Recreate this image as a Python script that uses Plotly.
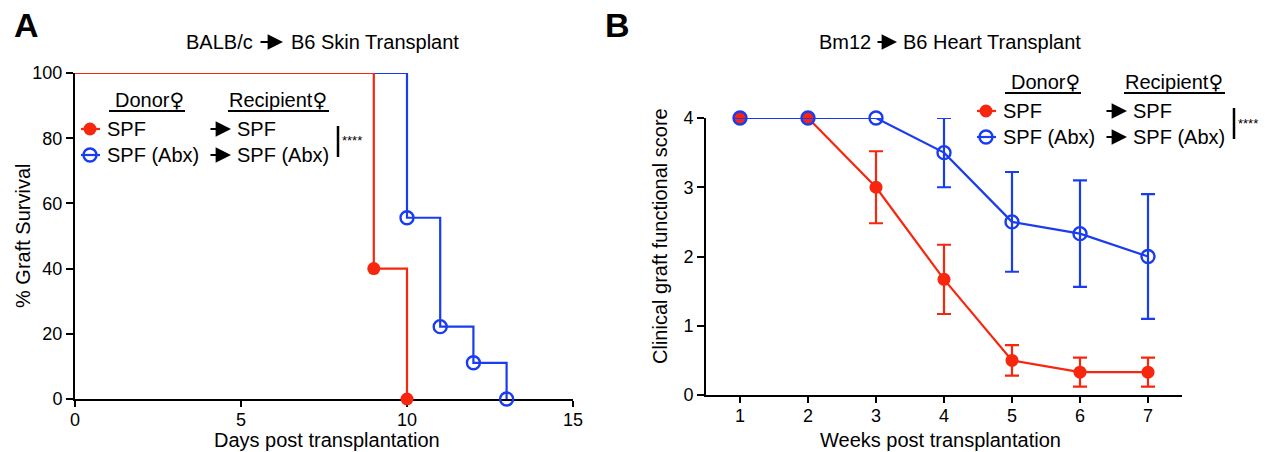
import plotly.graph_objects as go

W, H = 1267, 452          # browser window
OFF = 8                   # page body margin
FW, FH = W - OFF, H - OFF  # figure size

# ---------------- Data ----------------
# Panel A: Kaplan-Meier graft survival (%)
spf_days = [0, 9, 10]
spf_surv = [100, 40, 0]
abx_days = [0, 10, 11, 12, 13]
abx_surv = [100, 55.6, 22.2, 11.1, 0]
a_xticks = [0, 5, 10, 15]
a_yticks = [0, 20, 40, 60, 80, 100]

# Panel B: clinical graft functional score (mean +/- error)
weeks = [1, 2, 3, 4, 5, 6, 7]
spf_score = [4, 4, 3, 1.67, 0.5, 0.33, 0.33]
spf_err = [None, None, 0.52, 0.5, 0.22, 0.21, 0.21]
abx_score = [4, 4, 4, 3.5, 2.5, 2.33, 2.0]
abx_err = [None, None, None, 0.5, 0.72, 0.77, 0.9]
b_yticks = [0, 1, 2, 3, 4]

RED = "#F7260F"
BLUE = "#1A3CF0"
FONT = "Liberation Sans, Arial, Helvetica, sans-serif"
TXT = 20
TICK = 18
MS = 13
FEM = '<span style="font-family:DejaVu Sans">♀</span>'


def X(px):
    return (px - OFF) / FW


def Y(py):
    return 1 - (py - OFF) / FH


fig = go.Figure()

# ---- Panel A traces ----
fig.add_trace(go.Scatter(x=abx_days, y=abx_surv, mode="lines", line=dict(color=BLUE, width=2.2, shape="hv"),
                         xaxis="x", yaxis="y", showlegend=False, cliponaxis=False))
fig.add_trace(go.Scatter(x=spf_days, y=spf_surv, mode="lines", line=dict(color=RED, width=2.2, shape="hv"),
                         xaxis="x", yaxis="y", showlegend=False, cliponaxis=False))
fig.add_trace(go.Scatter(x=abx_days[1:], y=abx_surv[1:], mode="markers",
                         marker=dict(symbol="circle-open", size=MS, color=BLUE, line=dict(width=2.4)),
                         xaxis="x", yaxis="y", showlegend=False, cliponaxis=False))
fig.add_trace(go.Scatter(x=spf_days[1:], y=spf_surv[1:], mode="markers",
                         marker=dict(symbol="circle", size=MS, color=RED),
                         xaxis="x", yaxis="y", showlegend=False, cliponaxis=False))

# ---- Panel B traces ----
fig.add_trace(go.Scatter(x=weeks, y=spf_score, mode="lines+markers",
                         line=dict(color=RED, width=2.2),
                         marker=dict(symbol="circle", size=MS, color=RED),
                         error_y=dict(type="data", array=spf_err, visible=True, color=RED, thickness=2.2, width=7),
                         xaxis="x2", yaxis="y2", showlegend=False, cliponaxis=False))
fig.add_trace(go.Scatter(x=weeks, y=abx_score, mode="lines+markers",
                         line=dict(color=BLUE, width=2.2),
                         marker=dict(symbol="circle-open", size=MS, color=BLUE, line=dict(width=2.4)),
                         error_y=dict(type="data", array=abx_err, visible=True, color=BLUE, thickness=2.2, width=7),
                         xaxis="x2", yaxis="y2", showlegend=False, cliponaxis=False))

axis_common = dict(showline=True, linecolor="black", linewidth=2, ticks="outside", tickwidth=2,
                   tickcolor="black", showgrid=False, zeroline=False, automargin=False,
                   tickfont=dict(family=FONT, size=TICK, color="black"), layer="below traces")
xax = dict(ticklen=6, ticklabelstandoff=-3, **axis_common)
yax = dict(ticklen=7, **axis_common)

fig.update_layout(
    width=FW, height=FH,
    margin=dict(l=0, r=0, t=0, b=0),
    paper_bgcolor="white", plot_bgcolor="white",
    font=dict(family=FONT, size=TXT, color="black"),
    xaxis=dict(domain=[X(75), X(573)], range=[0, 15], tickvals=a_xticks, anchor="y", **xax),
    yaxis=dict(domain=[Y(399), Y(73)], range=[0, 100], tickvals=a_yticks, anchor="x", **yax),
    xaxis2=dict(domain=[X(706), X(1182)], range=[0.5, 7.5], tickvals=weeks, anchor="y2", **xax),
    yaxis2=dict(domain=[Y(395), Y(118)], range=[0, 4], tickvals=b_yticks, anchor="x2", **yax),
)

ann = []
shapes = []


def text(px, py, s, size=TXT, xanchor="left", angle=0, bold=False):
    ann.append(dict(x=X(px), y=Y(py), xref="paper", yref="paper", text=(f"<b>{s}</b>" if bold else s),
                    showarrow=False, xanchor=xanchor, yanchor="middle", textangle=angle,
                    font=dict(family=FONT, size=size, color="black")))


def arrow(x0, x1, py):
    ann.append(dict(x=X(x1), y=Y(py), xref="paper", yref="paper", ax=-(x1 - x0), ay=0, axref="pixel",
                    ayref="pixel", text="", showarrow=True, arrowhead=2, arrowsize=1.4, arrowwidth=2.2,
                    arrowcolor="black", standoff=0, startstandoff=0))


def hline(x0, x1, py, w=2, color="black"):
    shapes.append(dict(type="line", xref="paper", yref="paper", x0=X(x0), x1=X(x1), y0=Y(py), y1=Y(py),
                       line=dict(color=color, width=w)))


def vline(px, y0, y1, w=2.5):
    shapes.append(dict(type="line", xref="paper", yref="paper", x0=X(px), x1=X(px), y0=Y(y0), y1=Y(y1),
                       line=dict(color="black", width=w)))


def marker(px, py, color, filled):
    r = MS / 2
    shapes.append(dict(type="circle", xref="paper", yref="paper", xsizemode="pixel", ysizemode="pixel",
                       xanchor=X(px), yanchor=Y(py), x0=-r, x1=r, y0=-r, y1=r,
                       fillcolor=color if filled else "rgba(0,0,0,0)",
                       line=dict(color=color, width=0 if filled else 2.4)))


# Panel letters & titles
text(26, 25, "A", size=34, xanchor="center", bold=True)
text(617, 25, "B", size=34, xanchor="center", bold=True)
text(255, 42, "BALB/c", xanchor="right")
arrow(259, 283, 42)
text(289, 42, "B6 Skin Transplant")
text(873, 42, "Bm12", xanchor="right")
arrow(876, 897, 42)
text(901, 42, "B6 Heart Transplant")

# Axis titles
text(23, 236, "% Graft Survival", xanchor="center", angle=-90)
text(327, 440, "Days post transplantation", xanchor="center")
text(660, 236, "Clinical graft functional score", xanchor="center", angle=-90)
text(940, 440, "Weeks post transplantation", xanchor="center")


def legend(ox, oy):
    # ox: left of donor-column text, oy: y of header
    text(ox + 5, oy, "Donor" + FEM)
    hline(ox + 1, ox + 77, oy + 11)
    text(ox + 119, oy, "Recipient" + FEM)
    hline(ox + 120, ox + 221, oy + 11)
    r1, r2 = oy + 29, oy + 55
    for ry, col, filled, lab in [(r1, RED, True, "SPF"), (r2, BLUE, False, "SPF (Abx)")]:
        hline(ox - 27, ox - 8, ry, w=2.2, color=col)
        marker(ox - 18, ry, col, filled)
        text(ox - 3, ry, lab)
        arrow(ox + 101, ox + 123, ry)
        text(ox + 127, ry, lab)
    vline(ox + 230, r1 - 3, r2 + 2)
    text(ox + 232, (r1 + r2) / 2 - 1, "****", size=13)


legend(108, 100)
legend(1004, 82)

fig.update_layout(annotations=ann, shapes=shapes)
fig.write_html("out.html")
